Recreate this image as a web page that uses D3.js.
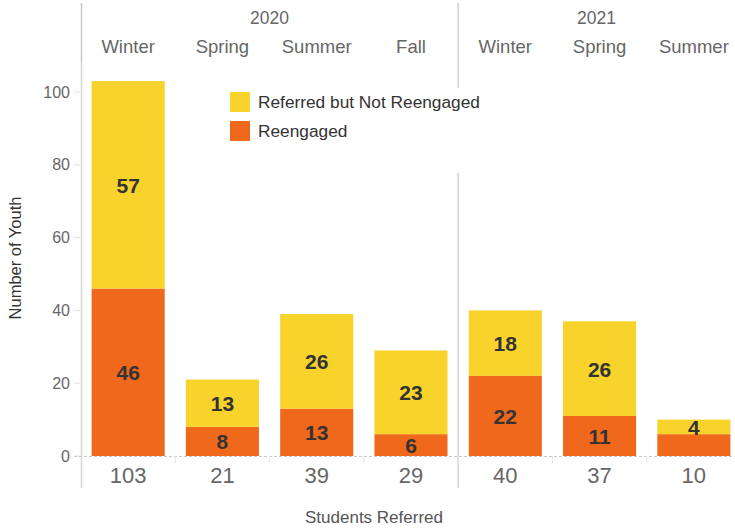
<!DOCTYPE html>
<html>
<head>
<meta charset="utf-8">
<script src="https://cdn.jsdelivr.net/npm/d3@7"></script>
<style>
  body { margin: 0; background: #fff; }
  text { font-family: "Liberation Sans", Arial, sans-serif; }
</style>
</head>
<body>
<svg id="chart" width="735" height="529"></svg>
<script>
const seasons = ["Winter", "Spring", "Summer", "Fall", "Winter", "Spring", "Summer"];
const years = ["2020", "2020", "2020", "2020", "2021", "2021", "2021"];
const reengaged = [46, 8, 13, 6, 22, 11, 6];
const notReengaged = [57, 13, 26, 23, 18, 26, 4];
const totals = [103, 21, 39, 29, 40, 37, 10];
const yTicks = [0, 20, 40, 60, 80, 100];
const seriesNames = ["Referred but Not Reengaged", "Reengaged"];

const yellow = "#f7d32b";
const orange = "#f0681b";
const width = 735;
const height = 529;

const svg = d3.select("#chart");

const keys = seasons.map((s, i) => i);
const x = d3.scaleBand()
  .domain(keys)
  .range([81, 741])
  .paddingInner(0.225)
  .paddingOuter(0.1125);
const y = d3.scaleLinear().domain([0, 100]).range([456, 92]);
const gapX = d => x(d) - x.step() * x.paddingInner() / 2;

// frame lines
const yearStart = keys.find(i => years[i] === "2021");
const divX = gapX(yearStart);
svg.append("line").attr("x1", 81.5).attr("x2", 81.5).attr("y1", 3).attr("y2", 63)
  .attr("stroke", "#c8c8c8").attr("stroke-width", 1.5);
svg.append("line").attr("x1", 81.5).attr("x2", 81.5).attr("y1", 63).attr("y2", 488)
  .attr("stroke", "#d6d6d6").attr("stroke-width", 1.5);
svg.append("line").attr("x1", divX).attr("x2", divX).attr("y1", 3).attr("y2", 88)
  .attr("stroke", "#d0d0d0").attr("stroke-width", 1.5);
svg.append("line").attr("x1", divX).attr("x2", divX).attr("y1", 173).attr("y2", 488)
  .attr("stroke", "#d0d0d0").attr("stroke-width", 1.5);

// y axis ticks
const yg = svg.append("g");
yg.selectAll("line").data(yTicks).enter().append("line")
  .attr("x1", 74).attr("x2", 80)
  .attr("y1", d => y(d)).attr("y2", d => y(d))
  .attr("stroke", "#e0e0e0");
yg.selectAll("text").data(yTicks).enter().append("text")
  .attr("x", 70).attr("y", d => y(d) + 5.5)
  .attr("text-anchor", "end")
  .attr("font-size", 16).attr("fill", "#666")
  .text(d => d);

// baseline
svg.append("line").attr("x1", 74).attr("x2", width).attr("y1", y(0) + 0.5).attr("y2", y(0) + 0.5)
  .attr("stroke", "#c8c8c8").attr("stroke-dasharray", "3,2");
svg.selectAll(".sep").data(keys.slice(1)).enter().append("line")
  .attr("x1", gapX).attr("x2", gapX)
  .attr("y1", y(0)).attr("y2", y(0) + 7)
  .attr("stroke", "#e6e6e6");

// bars
const bars = svg.append("g");
bars.selectAll(".ro").data(keys).enter().append("rect")
  .attr("x", d => x(d)).attr("width", x.bandwidth())
  .attr("y", d => y(reengaged[d])).attr("height", d => y(0) - y(reengaged[d]))
  .attr("fill", orange);
bars.selectAll(".ny").data(keys).enter().append("rect")
  .attr("x", d => x(d)).attr("width", x.bandwidth())
  .attr("y", d => y(reengaged[d] + notReengaged[d]))
  .attr("height", d => y(reengaged[d]) - y(reengaged[d] + notReengaged[d]))
  .attr("fill", yellow);

// bar labels (orange label hidden where it would collide with the yellow one)
const midO = d => y(reengaged[d] / 2);
const midY = d => y(reengaged[d] + notReengaged[d] / 2);
const lab = svg.append("g").attr("font-size", 21).attr("font-weight", "bold")
  .attr("fill", "#333").attr("text-anchor", "middle");
lab.selectAll(".lo").data(keys.filter(i => midO(i) - midY(i) > 24)).enter().append("text")
  .attr("x", d => x(d) + x.bandwidth() / 2)
  .attr("y", d => midO(d) + 8)
  .text(d => reengaged[d]);
lab.selectAll(".ly").data(keys).enter().append("text")
  .attr("x", d => x(d) + x.bandwidth() / 2)
  .attr("y", d => midY(d) + 8)
  .text(d => notReengaged[d]);

// totals
svg.selectAll(".tot").data(keys).enter().append("text")
  .attr("x", d => x(d) + x.bandwidth() / 2).attr("y", 483)
  .attr("text-anchor", "middle").attr("font-size", 22).attr("fill", "#666")
  .text(d => totals[d]);

// header labels
svg.selectAll(".season").data(keys).enter().append("text")
  .attr("x", d => x(d) + x.bandwidth() / 2).attr("y", 53)
  .attr("text-anchor", "middle").attr("font-size", 18.5).attr("fill", "#666")
  .text(d => seasons[d]);
const yearList = Array.from(new Set(years));
svg.selectAll(".year").data(yearList).enter().append("text")
  .attr("x", yr => {
    const a = yr === yearList[0] ? 81 : divX;
    const b = yr === yearList[yearList.length - 1] ? width : divX;
    return (a + b) / 2;
  })
  .attr("y", 24)
  .attr("text-anchor", "middle").attr("font-size", 17.5).attr("fill", "#666")
  .text(d => d);

// legend
const legend = svg.append("g").attr("transform", "translate(230,92)");
const legColors = [yellow, orange];
legend.selectAll("rect").data(seriesNames).enter().append("rect")
  .attr("x", 0).attr("y", (d, i) => i * 29)
  .attr("width", 20).attr("height", 20)
  .attr("fill", (d, i) => legColors[i]);
legend.selectAll("text").data(seriesNames).enter().append("text")
  .attr("x", 28).attr("y", (d, i) => i * 29 + 16)
  .attr("font-size", 17.3).attr("fill", "#333")
  .text(d => d);

// axis titles
svg.append("text")
  .attr("transform", "translate(21,258) rotate(-90)")
  .attr("text-anchor", "middle").attr("font-size", 16.5).attr("fill", "#333")
  .text("Number of Youth");
svg.append("text")
  .attr("x", 374).attr("y", 523)
  .attr("text-anchor", "middle").attr("font-size", 17).attr("fill", "#555")
  .text("Students Referred");
</script>
</body>
</html>
